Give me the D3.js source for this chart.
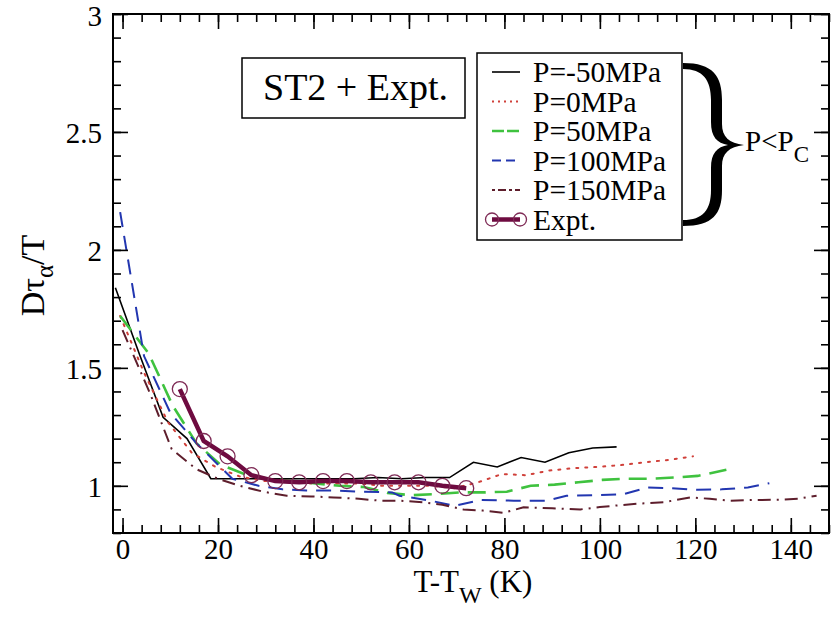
<!DOCTYPE html>
<html>
<head>
<meta charset="utf-8">
<script src="https://cdn.jsdelivr.net/npm/d3@7"></script>
<style>
  body { margin: 0; background: #fff; }
</style>
</head>
<body>
<div id="chart"></div>
<script>
// 数据：T-Tw (K) 与 Dτα/T
var xNeg50 = [-1.5, 3.5, 8.5, 13.5, 18.5, 23.5, 28.5, 33.5, 38.5, 43.5, 48.5, 53.5, 58.5, 63.5, 68.5, 73.5, 78.5, 83.5, 88.5, 93.5, 98.5, 103.5];
var yNeg50 = [1.84, 1.56, 1.29, 1.20, 1.03, 1.03, 1.03, 1.03, 1.03, 1.03, 1.03, 1.035, 1.03, 1.035, 1.035, 1.10, 1.08, 1.12, 1.10, 1.14, 1.16, 1.165];

var x0 = [-0.5, 4.5, 9.5, 14.5, 19.5, 24.5, 29.5, 34.5, 39.5, 44.5, 49.5, 54.5, 59.5, 64.5, 69.5, 74.5, 79.5, 84.5, 89.5, 94.5, 99.5, 104.5, 109.5, 114.5, 119.5];
var y0 = [1.72, 1.48, 1.27, 1.14, 1.08, 1.04, 1.02, 1.02, 1.01, 1.01, 1.01, 1.0, 1.0, 1.0, 0.99, 1.015, 1.05, 1.045, 1.065, 1.075, 1.08, 1.088, 1.10, 1.11, 1.125];

var x50 = [-0.5, 5.5, 10.5, 15.5, 20.5, 25.5, 30.5, 35.5, 40.5, 45.5, 50.5, 55.5, 60.5, 65.5, 70.5, 75.5, 80.5, 85.5, 90.5, 95.5, 100.5, 105.5, 110.5, 115.5, 120.5, 126.5];
var y50 = [1.72, 1.56, 1.34, 1.18, 1.09, 1.05, 1.03, 1.02, 1.01, 1.0, 0.995, 0.97, 0.96, 0.965, 0.972, 0.972, 0.975, 1.0, 1.005, 1.015, 1.025, 1.03, 1.03, 1.035, 1.042, 1.068];

var x100 = [-0.5, 4.5, 10, 15.5, 23, 28.5, 33.5, 38.5, 44, 50, 56.5, 58, 64.5, 69.5, 75, 82, 89, 93, 99, 105, 110, 115, 120.5, 125.5, 131, 135.5];
var y100 = [2.16, 1.55, 1.31, 1.18, 1.03, 1.0, 0.985, 0.98, 0.98, 0.975, 0.972, 0.958, 0.937, 0.915, 0.94, 0.937, 0.937, 0.958, 0.96, 0.965, 0.993, 0.99, 0.983, 0.985, 0.993, 1.011];

var x150 = [0, 5.8, 10.3, 15.5, 20, 24.6, 29.5, 34.4, 39.5, 44.2, 49.5, 54, 58, 63, 67, 71.4, 75.5, 79.8, 84, 90, 95.9, 100, 104.2, 108.5, 113.3, 118.9, 123, 127.3, 132.5, 137.8, 141.5, 145.4];
var y150 = [1.66, 1.39, 1.155, 1.07, 1.03, 1.0, 0.975, 0.958, 0.955, 0.951, 0.945, 0.937, 0.937, 0.93, 0.92, 0.90, 0.895, 0.885, 0.909, 0.905, 0.90, 0.91, 0.918, 0.925, 0.93, 0.951, 0.945, 0.937, 0.94, 0.941, 0.945, 0.958];

var xExpt = [12, 17, 22, 27, 32, 37, 42, 47, 52, 57, 62, 67, 72];
var yExpt = [1.41, 1.19, 1.125, 1.045, 1.02, 1.015, 1.02, 1.02, 1.015, 1.015, 1.015, 1.0, 0.99];

var legendLabels = ['P=-50MPa', 'P=0MPa', 'P=50MPa', 'P=100MPa', 'P=150MPa', 'Expt.'];
var xTicks = [0, 20, 40, 60, 80, 100, 120, 140];
var yTicks = [1, 1.5, 2, 2.5, 3];

// 基本配置
var width = 836, height = 619;
var margin = { left: 113, right: 7, top: 14, bottom: 86 };
var serif = 'Liberation Serif, DejaVu Serif, Times New Roman, serif';

var series = [
  { xs: xNeg50, ys: yNeg50, color: '#000000', dash: null, w: 1.6, legDash: null },
  { xs: x0, ys: y0, color: '#d0403a', dash: '2,7', w: 2, legDash: '2,4' },
  { xs: x50, ys: y50, color: '#3fc23f', dash: '18,9', w: 2.6, legDash: '12,3' },
  { xs: x100, ys: y100, color: '#2236b0', dash: '15,9', w: 2, legDash: '9,5' },
  { xs: x150, ys: y150, color: '#5e1e2c', dash: '13,6,2,6', w: 2, legDash: '3,3,8,3' }
];

var svg = d3.select('#chart').append('svg')
  .attr('width', width)
  .attr('height', height)
  .attr('font-family', serif)
  .style('display', 'block');

svg.append('rect').attr('width', width).attr('height', height).attr('fill', '#fff');

// 比例尺
var x = d3.scaleLinear().domain([-2, 148]).range([margin.left, width - margin.right]);
var y = d3.scaleLinear().domain([0.8, 3]).range([height - margin.bottom, margin.top]);

var line = d3.line()
  .x(function(d) { return x(d[0]); })
  .y(function(d) { return y(d[1]); });

// 曲线
series.forEach(function(s) {
  var pts = s.xs.map(function(v, i) { return [v, s.ys[i]]; });
  svg.append('path')
    .datum(pts)
    .attr('d', line)
    .attr('fill', 'none')
    .attr('stroke', s.color)
    .attr('stroke-width', s.w)
    .attr('stroke-dasharray', s.dash)
    .attr('stroke-linecap', s.dash === '2,7' ? 'round' : 'butt');
});

// 实验数据
var expt = xExpt.map(function(v, i) { return [v, yExpt[i]]; });
svg.append('path')
  .datum(expt)
  .attr('d', line)
  .attr('fill', 'none')
  .attr('stroke', '#6e0b40')
  .attr('stroke-width', 4.5);
svg.selectAll('.expt')
  .data(expt)
  .enter()
  .append('circle')
  .attr('class', 'expt')
  .attr('cx', function(d) { return x(d[0]); })
  .attr('cy', function(d) { return y(d[1]); })
  .attr('r', 7.5)
  .attr('fill', 'none')
  .attr('stroke', '#7e2a55')
  .attr('stroke-width', 1.3);

// 坐标轴
var minorX = d3.range(0, 149, 4);
var minorY = d3.range(8, 31).map(function(v) { return v / 10; });
var fmtNone = function() { return ''; };

function styleAxis(g) {
  g.attr('font-family', serif);
  g.select('.domain').remove();
  g.selectAll('line').attr('stroke', '#000').attr('stroke-width', 1.6);
  g.selectAll('text').attr('font-family', serif).attr('font-size', 29).attr('fill', '#000');
}

var bottomY = y(0.8), topY = y(3), leftX = x(-2), rightX = x(148);

svg.append('g').attr('transform', 'translate(0,' + bottomY + ')')
  .call(d3.axisBottom(x).tickValues(minorX).tickSize(-8).tickFormat(fmtNone)).call(styleAxis);
svg.append('g').attr('transform', 'translate(0,' + bottomY + ')')
  .call(d3.axisBottom(x).tickValues(xTicks).tickSize(-15).tickPadding(6).tickFormat(d3.format('d'))).call(styleAxis)
  .selectAll('text').attr('dy', '0.71em').attr('y', 5);
svg.append('g').attr('transform', 'translate(0,' + topY + ')')
  .call(d3.axisTop(x).tickValues(minorX).tickSize(-8).tickFormat(fmtNone)).call(styleAxis);
svg.append('g').attr('transform', 'translate(0,' + topY + ')')
  .call(d3.axisTop(x).tickValues(xTicks).tickSize(-15).tickFormat(fmtNone)).call(styleAxis);

svg.append('g').attr('transform', 'translate(' + leftX + ',0)')
  .call(d3.axisLeft(y).tickValues(minorY).tickSize(-8).tickFormat(fmtNone)).call(styleAxis);
svg.append('g').attr('transform', 'translate(' + leftX + ',0)')
  .call(d3.axisLeft(y).tickValues(yTicks).tickSize(-15).tickPadding(11).tickFormat(d3.format('~g'))).call(styleAxis)
  .selectAll('text').attr('dy', '0.38em');
svg.append('g').attr('transform', 'translate(' + rightX + ',0)')
  .call(d3.axisRight(y).tickValues(minorY).tickSize(-8).tickFormat(fmtNone)).call(styleAxis);
svg.append('g').attr('transform', 'translate(' + rightX + ',0)')
  .call(d3.axisRight(y).tickValues(yTicks).tickSize(-15).tickFormat(fmtNone)).call(styleAxis);

// 边框
svg.append('rect')
  .attr('x', leftX).attr('y', topY)
  .attr('width', rightX - leftX).attr('height', bottomY - topY)
  .attr('fill', 'none').attr('stroke', '#000').attr('stroke-width', 2);

// 轴标题
var xTitle = svg.append('text')
  .attr('x', (leftX + rightX) / 2 + 2)
  .attr('y', 592)
  .attr('text-anchor', 'middle')
  .attr('font-size', 31);
xTitle.append('tspan').text('T-T');
xTitle.append('tspan').attr('font-size', 24).attr('dy', 11).text('W');
xTitle.append('tspan').attr('dy', -11).text(' (K)');

var yTitle = svg.append('text')
  .attr('transform', 'translate(44,' + ((topY + bottomY) / 2 + 2) + ') rotate(-90)')
  .attr('text-anchor', 'middle')
  .attr('font-size', 34);
yTitle.append('tspan').text('D\u03c4');
yTitle.append('tspan').attr('font-size', 25).attr('dy', 9).text('\u03b1');
yTitle.append('tspan').attr('dy', -9).text('/T');

// 标签框
svg.append('rect')
  .attr('x', 242).attr('y', 58).attr('width', 223).attr('height', 60)
  .attr('fill', '#fff').attr('stroke', '#000').attr('stroke-width', 1.5);
svg.append('text')
  .attr('x', 263).attr('y', 100)
  .attr('font-size', 38)
  .text('ST2 + Expt.');

// 图例
var legend = svg.append('g');
legend.append('rect')
  .attr('x', 477).attr('y', 53).attr('width', 205).attr('height', 187)
  .attr('fill', '#fff').attr('stroke', '#000').attr('stroke-width', 1.5);

var rowY = function(i) { return 82 + i * 29.5; };
series.forEach(function(s, i) {
  legend.append('line')
    .attr('x1', 492).attr('x2', 520)
    .attr('y1', rowY(i) - 10).attr('y2', rowY(i) - 10)
    .attr('stroke', s.color)
    .attr('stroke-width', s.w)
    .attr('stroke-dasharray', s.legDash);
});
var ey = rowY(5) - 10;
legend.append('line')
  .attr('x1', 492).attr('x2', 520).attr('y1', ey).attr('y2', ey)
  .attr('stroke', '#6e0b40').attr('stroke-width', 4.5);
[492, 520].forEach(function(cx) {
  legend.append('circle').attr('cx', cx).attr('cy', ey).attr('r', 6.5)
    .attr('fill', 'none').attr('stroke', '#7e2a55').attr('stroke-width', 1.3);
});
legend.selectAll('.lab')
  .data(legendLabels)
  .enter()
  .append('text')
  .attr('class', 'lab')
  .attr('x', 533)
  .attr('y', function(d, i) { return rowY(i); })
  .attr('font-size', 29.5)
  .text(function(d) { return d; });

// 大括号（粗细渐变）
svg.append('path')
  .attr('d', 'M683,63 C713,63 722,76 722,100 L722,124 C722,137 729,143 744,145 ' +
    'C729,147 722,153 722,166 L722,190 C722,214 713,226 683,226 ' +
    'L683,220 C703,220 711,210 711,190 L711,168 C711,153 717,147 728,145 ' +
    'C717,143 711,137 711,122 L711,100 C711,80 703,69 683,69 Z')
  .attr('fill', '#000');

var pc = svg.append('text')
  .attr('x', 745).attr('y', 151)
  .attr('font-size', 29);
pc.append('tspan').text('P<P');
pc.append('tspan').attr('font-size', 23).attr('dy', 11).text('C');
</script>
</body>
</html>
